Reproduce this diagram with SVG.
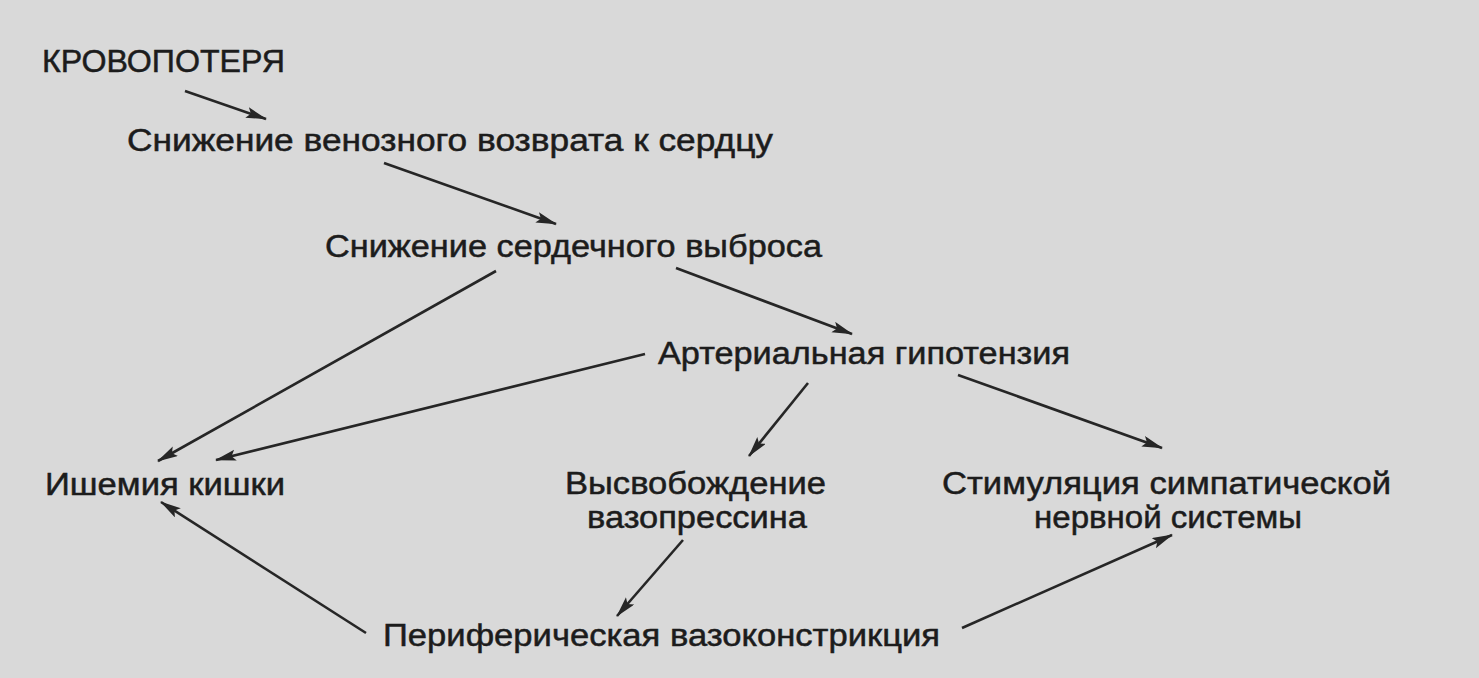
<svg xmlns="http://www.w3.org/2000/svg" width="1479" height="678" viewBox="0 0 1479 678">
<style>
.t{font-family:"Liberation Sans","Arial",sans-serif;font-size:31px;fill:#1c1c1c;stroke:#1c1c1c;stroke-width:0.5}
.c{stroke:#262626;stroke-width:2.6;fill:none;marker-end:url(#ah)}
</style>
<defs>
<marker id="ah" markerUnits="userSpaceOnUse" markerWidth="22" markerHeight="12" refX="20" refY="5.5" orient="auto">
<path d="M0,0 L21,5.5 L0,11 L4,5.5 z" fill="#262626"/>
</marker>
</defs>
<rect width="1479" height="678" fill="#d9d9d9"/>
<g id="connectors">
<line class="c" x1="185" y1="91" x2="266" y2="119"/>
<line class="c" x1="384" y1="163" x2="556" y2="224"/>
<line class="c" x1="676" y1="268" x2="852" y2="334"/>
<line class="c" x1="496" y1="271" x2="158" y2="461"/>
<line class="c" x1="645" y1="354" x2="216" y2="460"/>
<line class="c" x1="808" y1="383" x2="749" y2="456"/>
<line class="c" x1="958" y1="375" x2="1162" y2="448"/>
<line class="c" x1="683" y1="540" x2="617" y2="616"/>
<line class="c" x1="366" y1="633" x2="161" y2="502"/>
<line class="c" x1="962" y1="628" x2="1172" y2="535"/>
</g>
<g id="n1"><text class="t" x="42" y="72" textLength="243" lengthAdjust="spacingAndGlyphs">КРОВОПОТЕРЯ</text></g>
<g id="n2"><text class="t" x="127" y="151" textLength="646" lengthAdjust="spacingAndGlyphs">Снижение венозного возврата к сердцу</text></g>
<g id="n3"><text class="t" x="325" y="257" textLength="497" lengthAdjust="spacingAndGlyphs">Снижение сердечного выброса</text></g>
<g id="n4"><text class="t" x="658" y="364" textLength="412" lengthAdjust="spacingAndGlyphs">Артериальная гипотензия</text></g>
<g id="n5"><text class="t" x="45" y="495" textLength="240" lengthAdjust="spacingAndGlyphs">Ишемия кишки</text></g>
<g id="n6"><text class="t" x="565" y="494" textLength="261" lengthAdjust="spacingAndGlyphs">Высвобождение</text><text class="t" x="587" y="528" textLength="220" lengthAdjust="spacingAndGlyphs">вазопрессина</text></g>
<g id="n7"><text class="t" x="942" y="494" textLength="449" lengthAdjust="spacingAndGlyphs">Стимуляция симпатической</text><text class="t" x="1034" y="528" textLength="268" lengthAdjust="spacingAndGlyphs">нервной системы</text></g>
<g id="n8"><text class="t" x="383" y="646" textLength="557" lengthAdjust="spacingAndGlyphs">Периферическая вазоконстрикция</text></g>
</svg>
